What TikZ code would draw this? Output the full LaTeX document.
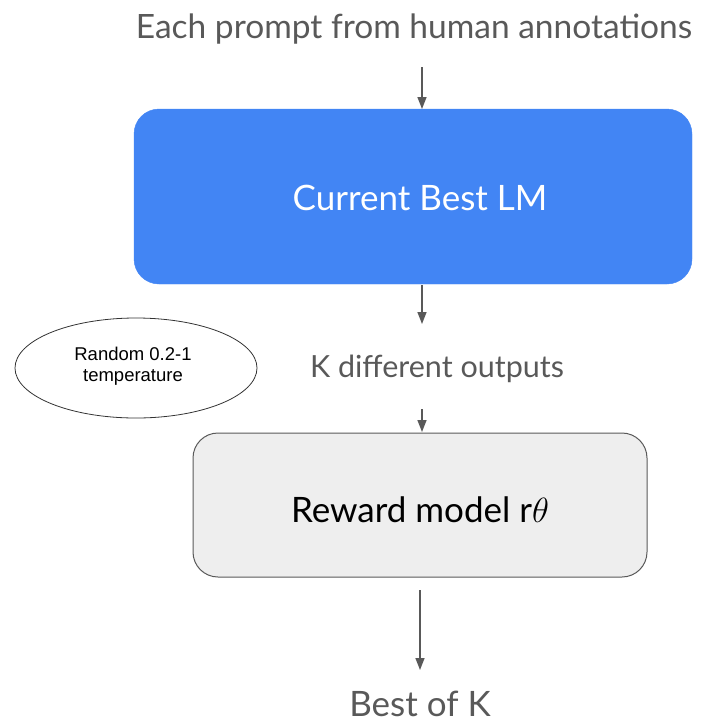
\RequirePackage{fix-cm}
\documentclass[tikz,border=0pt]{standalone}
\usepackage{fontspec}
\setmainfont{Lato}
\newfontfamily\arialfont{Liberation Sans}
\usetikzlibrary{shapes.geometric,arrows.meta}
\definecolor{lmblue}{HTML}{4285F4}
\definecolor{labelgray}{HTML}{595959}
\definecolor{boxgray}{HTML}{EEEEEE}
\definecolor{linegray}{HTML}{595959}
\tikzset{
  label text/.style={text=labelgray, inner sep=0pt},
  flow/.style={draw=linegray, line width=1.5pt, -{Triangle[length=12pt,width=9pt]}},
  box/.style={rounded corners=25pt, inner sep=0pt},
}
\begin{document}
\begin{tikzpicture}[x=1pt,y=-1pt]
  \useasboundingbox (0,0) rectangle (712,724);
  % prompt text
  \node[label text, font=\fontsize{33.5}{40}\selectfont] (prompt) at (414,29) {Each prompt from human annotations};
  % language model box
  \draw[box, fill=lmblue, draw=lmblue] (134,109) rectangle (692,284);
  \node[font=\fontsize{35}{42}\selectfont, text=white, inner sep=0pt] (lm) at (420,198) {Current Best LM};
  \coordinate (lmtop) at (422,109);
  \coordinate (lmbot) at (422,285);
  % sampled outputs
  \node[label text, font=\fontsize{30.5}{36}\selectfont] (outputs) at (437,369) {K different outputs};
  \node[draw=black!80, line width=0.8pt, ellipse, minimum width=242pt, minimum height=100pt,
        inner sep=0pt] (temp) at (136,368) {};
  \node[align=center, inner sep=0pt, font=\arialfont\fontsize{18.5}{20.5}\selectfont] (templabel) at (133,366)
        {Random 0.2-1\\temperature};
  % reward model box
  \draw[box, fill=boxgray, draw=linegray, line width=1pt] (193,433) rectangle (647,577);
  \node[font=\fontsize{35}{42}\selectfont, text=black, inner sep=0pt] (rm) at (420,510) {Reward model r$\theta$};
  \coordinate (rmtop) at (422,432);
  \coordinate (rmbot) at (420,590);
  % result
  \node[label text, font=\fontsize{35}{42}\selectfont] (best) at (420,704) {Best of K};
  % connectors
  \coordinate (a1) at (422,67);
  \coordinate (a2) at (422,324);
  \coordinate (a3) at (422,409);
  \coordinate (a4) at (420,670);
  \draw[flow] (a1) -- (lmtop);
  \draw[flow] (lmbot) -- (a2);
  \draw[flow] (a3) -- (rmtop);
  \draw[flow] (rmbot) -- (a4);
\end{tikzpicture}
\end{document}
